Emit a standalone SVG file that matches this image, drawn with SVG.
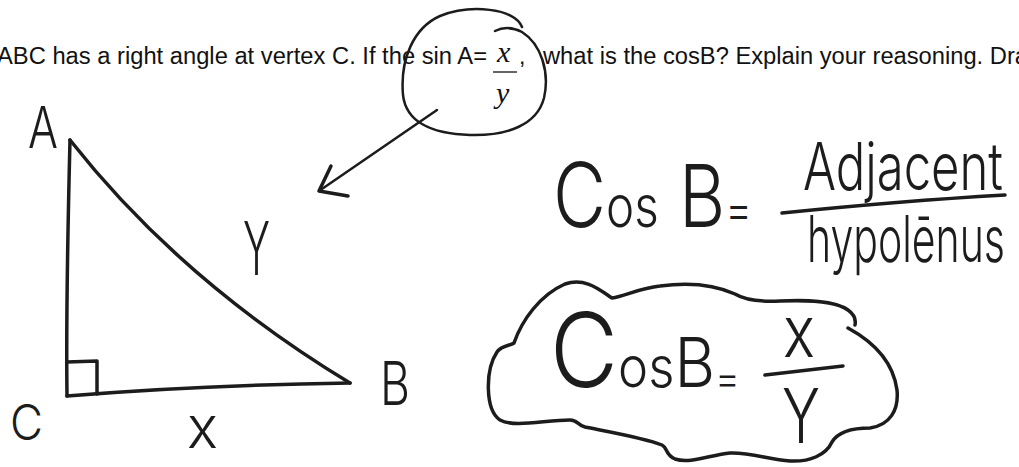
<svg xmlns="http://www.w3.org/2000/svg" width="1019" height="467" viewBox="0 0 1019 467">
<style>
.print{font-family:"Liberation Sans",Arial,sans-serif;font-size:23px;fill:#111}
.math{font-family:"Liberation Serif","Times New Roman",serif;font-style:italic;font-size:30px;fill:#111}
.ink{fill:none;stroke:#1c1c1c;stroke-width:3.5;stroke-linecap:round;stroke-linejoin:round}
.thin{fill:none;stroke:#1c1c1c;stroke-width:2.5;stroke-linecap:round;stroke-linejoin:round}
.hand{font-family:Inter,Roboto,"DejaVu Sans",sans-serif;font-weight:300;fill:#1c1c1c}
</style>
<rect width="1019" height="467" fill="#fff"/>
<g id="question">
<text class="print" x="-3" y="64" textLength="490" lengthAdjust="spacingAndGlyphs">ABC has a right angle at vertex C. If the sin A=</text>
<text class="math" x="497" y="62">x</text>
<line x1="493" y1="72" x2="517" y2="72" stroke="#111" stroke-width="1.3"/>
<text class="math" x="496" y="103">y</text>
<text class="print" x="519" y="64">,</text>
<text class="print" x="543" y="64" textLength="485" lengthAdjust="spacingAndGlyphs">what is the cosB? Explain your reasoning. Dra</text>
</g>
<g id="circle-mark">
<path class="thin" d="M522,27 C515,8 470,4 440,16 C413,28 400,60 403,95 C406,122 432,134 470,135 C507,136 537,125 544,98 C550,72 541,44 522,32 C512,27 503,27 495,31"/>
</g>
<g id="connectors">
<path class="thin" d="M437,110 L319,191"/>
<path class="ink" d="M331,166 L319,191 L348,196"/>
</g>
<g id="triangle">
<path class="ink" d="M70,140 C68,220 66,320 67,396"/>
<path class="ink" d="M70,140 Q180,280 350,383"/>
<path class="ink" d="M67,396 Q200,385 350,383"/>
<path class="ink" d="M67,362 L97,361 L97,394"/>
<text class="hand" x="28" y="148" font-size="57" textLength="30" lengthAdjust="spacingAndGlyphs">A</text>
<text class="hand" x="380" y="405" font-size="60" textLength="30" lengthAdjust="spacingAndGlyphs">B</text>
<text class="hand" x="10" y="440" font-size="49" textLength="33" lengthAdjust="spacingAndGlyphs">C</text>
<text class="hand" x="187" y="448" font-size="58" textLength="31" lengthAdjust="spacingAndGlyphs">x</text>
<text class="hand" x="243" y="275" font-size="74" textLength="27" lengthAdjust="spacingAndGlyphs">Y</text>
</g>
<g id="formula">
<text class="hand" x="553" y="227" textLength="199" lengthAdjust="spacingAndGlyphs"><tspan font-size="89">C</tspan><tspan font-size="58">os</tspan><tspan font-size="87"> B</tspan><tspan font-size="50">=</tspan></text>
<path class="ink" d="M782,213 Q900,201 1005,195"/>
<text class="hand" x="803" y="190" font-size="66" textLength="200" lengthAdjust="spacingAndGlyphs">Adjacent</text>
<text class="hand" x="807" y="262" font-size="64" textLength="198" lengthAdjust="spacingAndGlyphs">hypolēnus</text>
</g>
<g id="answer-cloud">
<path class="ink" d="M848,328 C870,340 893,360 897,390 C899,410 890,425 870,428 C850,428 838,432 832,442 C826,455 810,462 790,461 C770,460 750,452 730,453 C710,455 690,464 675,459 C665,455 668,448 662,445 C645,438 610,432 585,427 C577,425 578,420 570,420 C545,420 515,428 500,420 C485,410 485,370 497,352 C502,345 510,346 514,343 C522,320 540,295 565,284 C585,277 600,290 612,298 C625,296 640,288 660,286 C690,282 715,285 735,294 C745,300 760,302 780,301 C805,300 835,300 848,310 C855,315 856,320 855,325"/>
<text class="hand" x="550" y="387" textLength="190" lengthAdjust="spacingAndGlyphs"><tspan font-size="103">C</tspan><tspan font-size="56">os</tspan><tspan font-size="69">B</tspan><tspan font-size="42" dy="6">=</tspan></text>
<path class="ink" d="M765,375 L843,366"/>
<text class="hand" x="783" y="357" font-size="72" textLength="32" lengthAdjust="spacingAndGlyphs">x</text>
<text class="hand" x="782" y="443" font-size="76" textLength="38" lengthAdjust="spacingAndGlyphs">Y</text>
</g>
</svg>
